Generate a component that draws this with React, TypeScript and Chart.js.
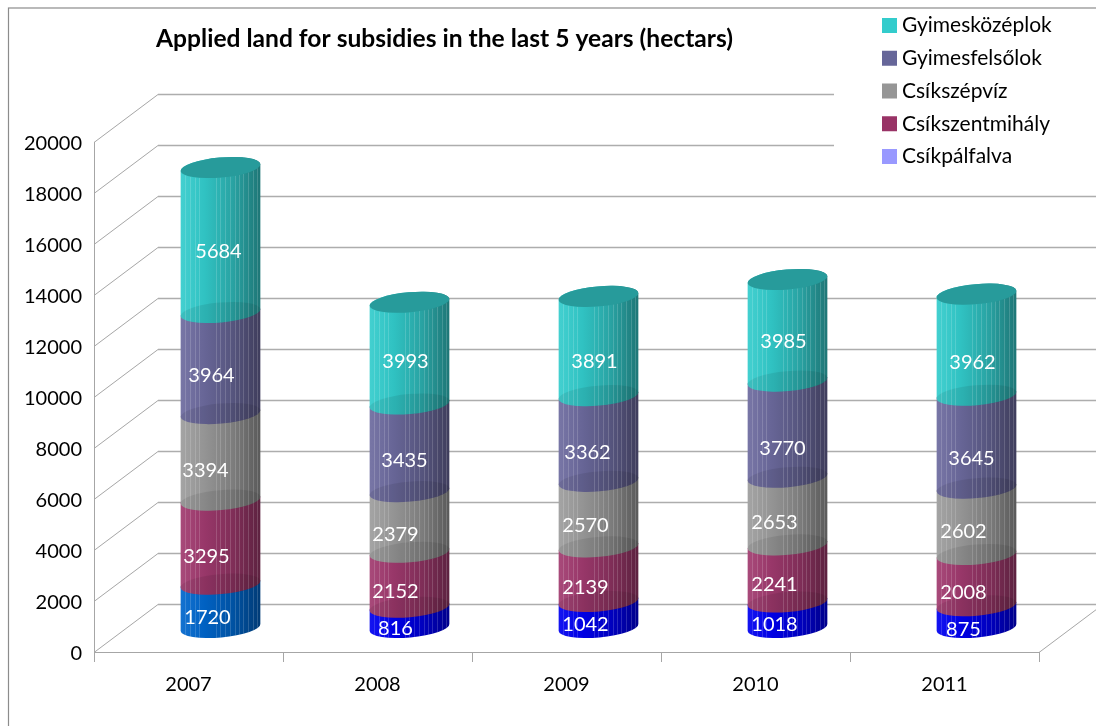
import React, { useEffect, useRef } from "react";
import { Chart, registerables } from "chart.js";

Chart.register(...registerables);

const years = ["2007", "2008", "2009", "2010", "2011"];
const seriesNames = ["Csíkpálfalva", "Csíkszentmihály", "Csíkszépvíz", "Gyimesfelsőlok", "Gyimesközéplok"];
const csikpalfalva = [1720, 816, 1042, 1018, 875];
const csikszentmihaly = [3295, 2152, 2139, 2241, 2008];
const csikszepviz = [3394, 2379, 2570, 2653, 2602];
const gyimesfelsolok = [3964, 3435, 3362, 3770, 3645];
const gyimeskozeplok = [5684, 3993, 3891, 3985, 3962];
const seriesValues = [csikpalfalva, csikszentmihaly, csikszepviz, gyimesfelsolok, gyimeskozeplok];

const legendColors = ["#9999FF", "#993366", "#969696", "#666699", "#33CCCC"];
const barColors = [
  ["#0066CC", "#0000F0", "#0000F0", "#0000F0", "#0000F0"],
  ["#A03A6E", "#A03A6E", "#A03A6E", "#A03A6E", "#A03A6E"],
  ["#9C9C9C", "#9C9C9C", "#9C9C9C", "#9C9C9C", "#9C9C9C"],
  ["#6C6A9E", "#6C6A9E", "#6C6A9E", "#6C6A9E", "#6C6A9E"],
  ["#33CCCC", "#33CCCC", "#33CCCC", "#33CCCC", "#33CCCC"],
];

// nudges of the value labels, per series then per year
const labelDx = [
  [-13, -14, -13, -13, -13],
  [-14, -14, -13, -13, -13],
  [-15, -14, -13, -13, -13],
  [-9, -5, -11, -5, -5],
  [-2, -4, -4, -4, -4],
];
const labelDy = [
  [-1, -1, -2, -3, 0],
  [2, -1, 1, -1, 0],
  [1, 0, -1, -1, -2],
  [0, 0, 2, 7, 4],
  [-1, -4, 3, -1, 5],
];

const stripeOffsets = [4, 9, 14, 18, 35, 39, 44, 49, 54, 58, 62, 67, 72, 76];

const FONT = "Lato";
const DEPTH_X = 64;
const DEPTH_Y = 48;
const ROT = (-5 * Math.PI) / 180;
const RY = 10;

function shade(hex: string, f: number): string {
  const n = parseInt(hex.slice(1), 16);
  const ch = [(n >> 16) & 255, (n >> 8) & 255, n & 255];
  const out = ch.map((c) => Math.round(f >= 1 ? c + (255 - c) * (f - 1) : c * f));
  return `rgb(${out[0]},${out[1]},${out[2]})`;
}

const wallPlugin = {
  id: "wall",
  afterLayout(chart: any) {
    const lg = chart.legend;
    if (lg) {
      const pad = lg.options.labels.padding;
      lg.left = 887.5 - pad;
      lg.right = 1096;
      lg.top = 15 - pad;
      lg.bottom = 726;
    }
    const tb = chart.titleBlock;
    if (tb) {
      tb.left = 156;
      tb.right = 733;
    }
    // Lato sits a little high on a middle baseline
    chart.scales.y.getLabelItems(chart.chartArea).forEach((item: any) => {
      item.textOffset += 2;
    });
  },
  beforeDraw(chart: any) {
    const { ctx, scales, width, height } = chart;
    const { x: xs, y: ys } = scales;
    ctx.save();
    ctx.fillStyle = "#fff";
    ctx.fillRect(0, 0, width, height);
    ctx.strokeStyle = "#8c8c8c";
    ctx.lineWidth = 1.2;
    ctx.strokeRect(8.5, 8, width + 20, height + 20);

    const left = xs.left;
    const right = xs.right;
    ys.ticks.forEach((t: any) => {
      const py = Math.round(ys.getPixelForValue(t.value)) + 0.5;
      ctx.strokeStyle = "#a6a6a6";
      ctx.lineWidth = 1;
      ctx.beginPath();
      ctx.moveTo(left, py);
      ctx.lineTo(left + DEPTH_X, py - DEPTH_Y);
      ctx.stroke();
      ctx.strokeStyle = "#adadad";
      ctx.lineWidth = 1.4;
      ctx.beginPath();
      ctx.moveTo(left + DEPTH_X, py - DEPTH_Y);
      ctx.lineTo(right + DEPTH_X, py - DEPTH_Y);
      ctx.stroke();
    });
    const py0 = Math.round(ys.getPixelForValue(0)) + 0.5;
    ctx.strokeStyle = "#a6a6a6";
    ctx.lineWidth = 1;
    ctx.beginPath();
    ctx.moveTo(right, py0);
    ctx.lineTo(right + DEPTH_X, py0 - DEPTH_Y);
    ctx.stroke();

    // the legend's white panel hides the top of the back wall
    ctx.fillStyle = "#fff";
    ctx.fillRect(834, 9, 262, 180);
    ctx.restore();
  },
  beforeDatasetsDraw(chart: any) {
    const { ctx, data } = chart;
    const n = data.labels.length;
    const dx = DEPTH_X / 2;
    const dy = DEPTH_Y / 2;
    ctx.save();
    for (let c = 0; c < n; c++) {
      for (let s = 0; s < data.datasets.length; s++) {
        const el = chart.getDatasetMeta(s).data[c];
        const cx = el.x + dx;
        const rx = el.width / 2;
        const topY = el.y - dy;
        const baseY = el.base - dy;
        const col = data.datasets[s].backgroundColor[c];

        const body = () => {
          ctx.beginPath();
          ctx.ellipse(cx, baseY, rx, RY, ROT, 0, Math.PI, false);
          ctx.ellipse(cx, topY, rx, RY, ROT, Math.PI, Math.PI * 2, false);
          ctx.closePath();
        };
        const g = ctx.createLinearGradient(cx - rx, 0, cx + rx, 0);
        g.addColorStop(0, shade(col, 1.08));
        g.addColorStop(0.3, shade(col, 0.95));
        g.addColorStop(0.65, shade(col, 0.8));
        g.addColorStop(1, shade(col, 0.58));
        ctx.fillStyle = g;
        body();
        ctx.fill();

        // the cap of the segment below shows through
        if (s > 0) {
          ctx.fillStyle = "rgba(0,0,0,0.08)";
          ctx.beginPath();
          ctx.ellipse(cx, baseY, rx, RY, ROT, 0, Math.PI * 2);
          ctx.fill();
        }

        // seams of the round surface
        ctx.strokeStyle = "rgba(255,255,255,0.16)";
        ctx.lineWidth = 1;
        const arc = (x: number, cy: number) => {
          const u = (x - cx) / rx;
          return cy + RY * Math.sqrt(Math.max(0, 1 - u * u)) + u * rx * Math.sin(ROT);
        };
        stripeOffsets.forEach((off) => {
          const x = Math.round(cx - rx + off) + 0.5;
          ctx.beginPath();
          ctx.moveTo(x, arc(x, topY));
          ctx.lineTo(x, arc(x, baseY));
          ctx.stroke();
        });

        if (s === data.datasets.length - 1) {
          ctx.fillStyle = shade(col, 0.76);
          ctx.beginPath();
          ctx.ellipse(cx, topY, rx, RY, ROT, 0, Math.PI * 2);
          ctx.fill();
        }
      }
    }
    // value labels
    ctx.fillStyle = "#fff";
    ctx.font = `20px ${FONT}`;
    ctx.textAlign = "center";
    ctx.textBaseline = "middle";
    for (let s = 0; s < data.datasets.length; s++) {
      const meta = chart.getDatasetMeta(s);
      meta.data.forEach((el: any, c: number) => {
        ctx.fillText(
          String(data.datasets[s].data[c]),
          el.x + dx + labelDx[s][c],
          (el.y + el.base) / 2 - 11.5 + labelDy[s][c]
        );
      });
    }
    ctx.restore();
    return false;
  },
};

export default function App() {
  const ref = useRef<HTMLCanvasElement>(null);
  useEffect(() => {
    const chart = new Chart(ref.current as HTMLCanvasElement, {
      type: "bar",
      data: {
        labels: years,
        datasets: seriesNames.map((name, i) => ({
          label: name,
          data: seriesValues[i],
          backgroundColor: barColors[i],
        })),
      },
      plugins: [wallPlugin],
      options: {
        responsive: false,
        animation: false,
        layout: { padding: { left: 8, right: 57, top: 0, bottom: 0 } },
        datasets: { bar: { categoryPercentage: 1, barPercentage: 80 / 189 } },
        plugins: {
          tooltip: { enabled: false },
          title: {
            display: true,
            text: "Applied land for subsidies in the last 5 years (hectars)",
            color: "#000",
            font: { family: FONT, size: 24.6, weight: "bold", lineHeight: 1.2 },
            padding: { top: 24, bottom: 142 - 24 - 29.52 },
          },
          legend: {
            display: true,
            position: "chartArea",
            align: "start",
            reverse: true,
            labels: {
              boxWidth: 4,
              boxHeight: 4,
              padding: 11.75,
              color: "#000",
              font: { family: FONT, size: 21 },
              generateLabels: (c: any) =>
                c.data.datasets.map((d: any, i: number) => ({
                  text: d.label,
                  fillStyle: legendColors[i],
                  strokeStyle: legendColors[i],
                  lineWidth: 11,
                  datasetIndex: i,
                })),
            },
          },
        },
        scales: {
          x: {
            stacked: true,
            afterFit: (a: any) => {
              a.height = 74;
            },
            border: { color: "#a6a6a6", width: 1 },
            grid: { drawOnChartArea: false, drawTicks: true, tickLength: 10, color: "#a6a6a6" },
            ticks: { color: "#000", font: { family: FONT, size: 20 }, padding: 11, maxRotation: 0 },
          },
          y: {
            stacked: true,
            min: 0,
            max: 20000,
            afterFit: (a: any) => {
              a.width = 86;
            },
            border: { color: "#a6a6a6", width: 1 },
            grid: { drawOnChartArea: false, drawTicks: false },
            ticks: {
              stepSize: 2000,
              color: "#000",
              font: { family: FONT, size: 20 },
              padding: 12,
              callback: (v: any) => String(v),
            },
          },
        },
      } as any,
    });
    return () => chart.destroy();
  }, []);
  return (
    <canvas
      ref={ref}
      width={1096}
      height={726}
      style={{ position: "absolute", left: 0, top: 0, display: "block" }}
    />
  );
}
